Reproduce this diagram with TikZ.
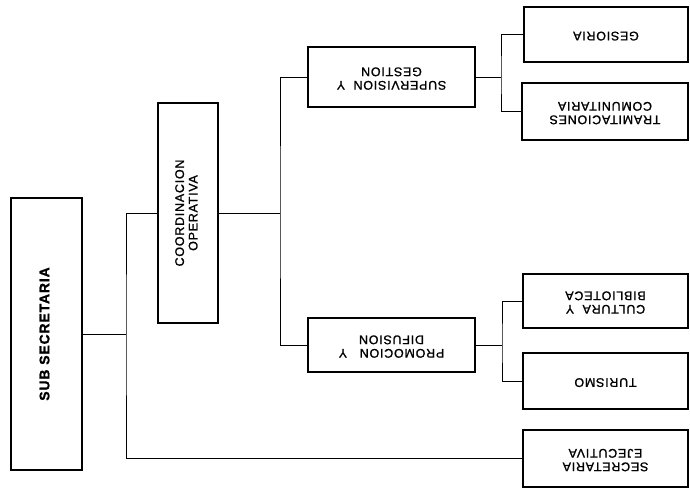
\documentclass[tikz,border=0pt]{standalone}
\usepackage{fontspec}
\setmainfont{Liberation Sans}
\newfontfamily\unitfont[LetterSpace=6,FakeBold=1.2]{Liberation Sans}
\usetikzlibrary{positioning}

\newcommand{\turnup}[1]{\rotatebox{90}{\begin{tabular}{@{}c@{}}#1\end{tabular}}}
\newcommand{\turnover}[1]{\rotatebox{180}{\begin{tabular}{@{}c@{}}#1\end{tabular}}}
\renewcommand{\arraystretch}{0.9}

\begin{document}
\begin{tikzpicture}[x=1pt, y=-1pt,
  unit/.style={draw, line width=1.6pt, inner sep=0pt, align=center,
    font=\unitfont\fontsize{12.5}{15}\selectfont},
  side/.style={unit, minimum width=165pt, minimum height=56pt},
  link/.style={line width=0.8pt}]

\useasboundingbox (0,0) rectangle (690,492);

% head and coordination
\node[unit, line width=2.2pt, minimum width=71pt, minimum height=272pt] (sub) at (46.5,334)
  {\turnup{\bfseries\fontsize{14}{16}\selectfont SUB SECRETARIA}};
\node[unit, minimum width=60pt, minimum height=220pt] (coord) at (188,213)
  {\turnup{COORDINACION\\OPERATIVA}};

% middle level
\node[unit, minimum width=167pt, minimum height=60pt] (sup) at (391.5,77)
  {\turnover{SUPERVISION\ \ Y\\GESTION}};
\node[unit, minimum width=167pt, minimum height=54pt] (prom) at (391.5,345)
  {\turnover{PROMOCION\ \ \ Y\\DIFUSION}};

% right column
\node[side, minimum width=164pt, minimum height=55pt] (ges) at (606,34.5) {\turnover{GESIORIA}};
\node[side, minimum width=166pt, minimum height=57pt] (tram) at (605,111.5) {\turnover{TRAMITACIONES\\COMUNITARIA}};
\node[side, minimum height=54pt] (cult) at (605.5,301) {\turnover{CULTURA\ \ Y\\BIBLIOTECA}};
\node[side] (tur) at (605.5,381) {\turnover{TURISMO}};
\node[side, minimum height=57pt] (sec) at (605.5,458.5) {\turnover{SECRETARIA\\EJECUTIVA}};

% junctions
\coordinate (j1) at (126,334);
\coordinate (j2) at (280,213);
\coordinate (j3) at (501,77);
\coordinate (j4) at (502,345);

\draw[link] (sub.east) -- (j1);
\draw[link] (coord.west) -| (j1) |- (sec.west);
\draw[link] (coord.east) -- (j2);
\draw[link] (sup.west) -| (j2) |- (prom.west);
\draw[link] (sup.east) -- (j3);
\draw[link] (ges.west) -| (j3) |- (tram.west);
\draw[link] (prom.east) -- (j4);
\draw[link] (cult.west) -| (j4) |- (tur.west);

\end{tikzpicture}
\end{document}
